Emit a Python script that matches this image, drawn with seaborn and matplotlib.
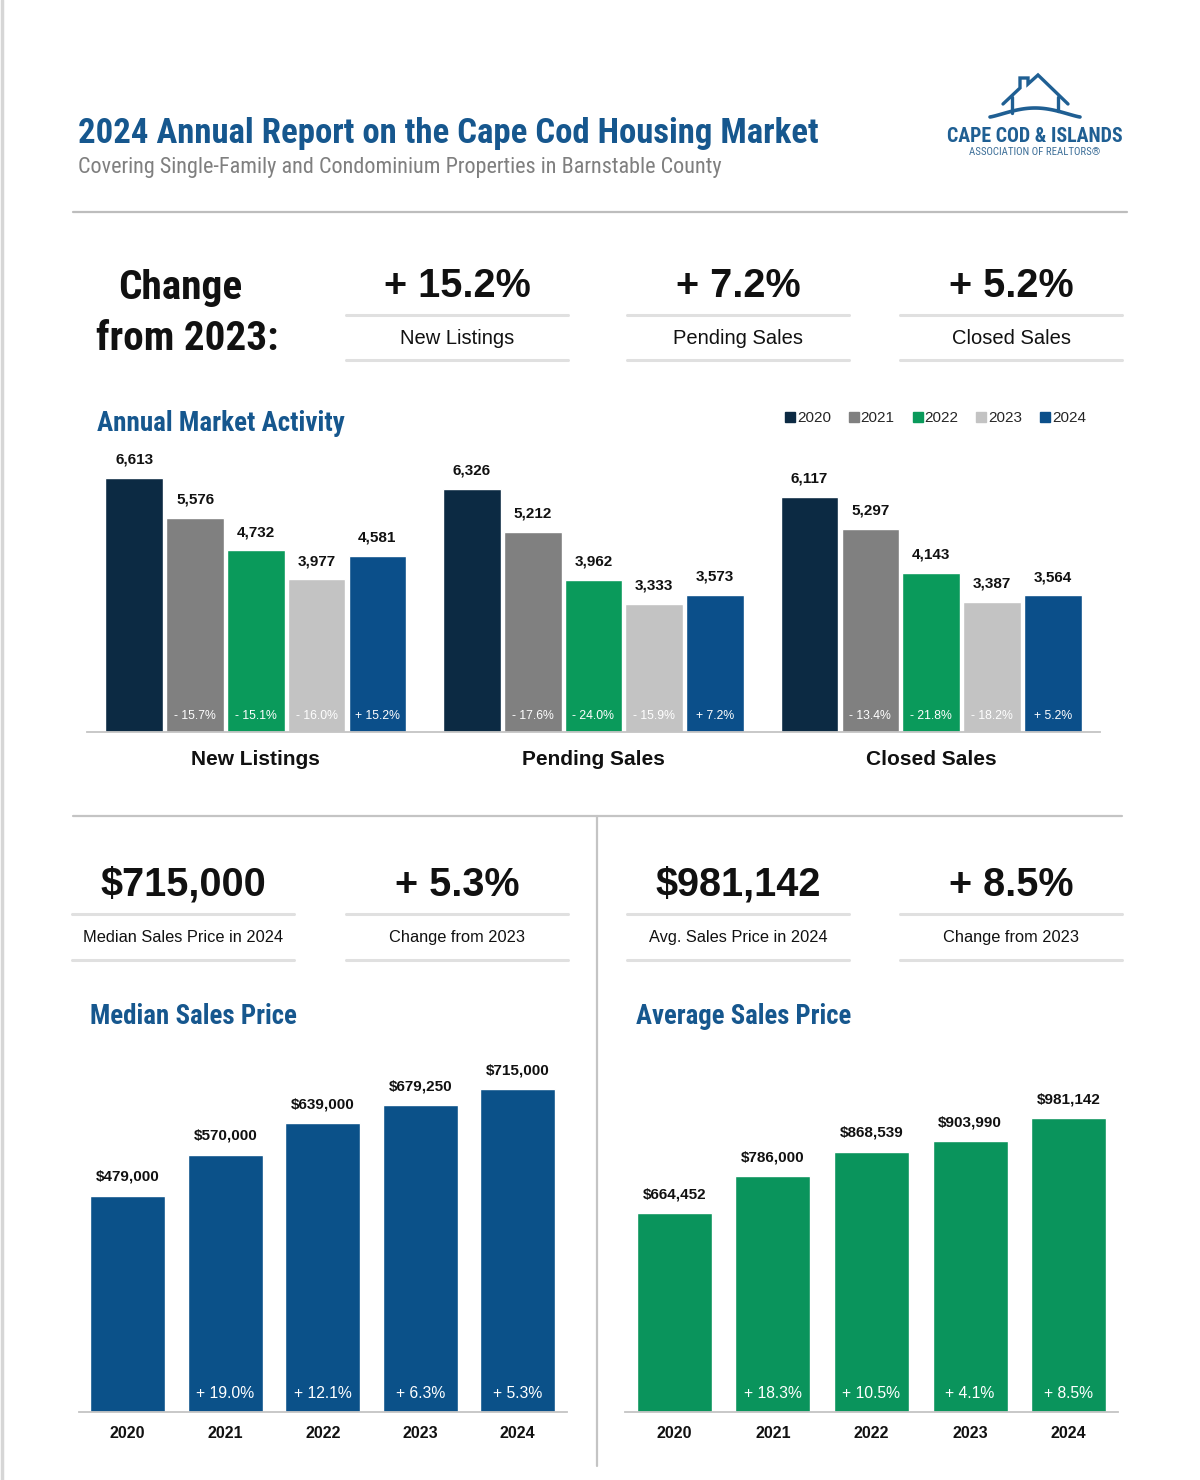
import os
import numpy as np
import pandas as pd
import matplotlib
matplotlib.use("Agg")
import matplotlib.pyplot as plt
import seaborn as sns
from matplotlib import font_manager as fm
from matplotlib.font_manager import FontProperties
from matplotlib.lines import Line2D

# ---------------- data ----------------
activity_categories = ["New Listings", "Pending Sales", "Closed Sales"]
activity_years = ["2020", "2021", "2022", "2023", "2024"]
new_listings = [6613, 5576, 4732, 3977, 4581]
pending_sales = [6326, 5212, 3962, 3333, 3573]
closed_sales = [6117, 5297, 4143, 3387, 3564]
new_listings_chg = ["", "- 15.7%", "- 15.1%", "- 16.0%", "+ 15.2%"]
pending_sales_chg = ["", "- 17.6%", "- 24.0%", "- 15.9%", "+ 7.2%"]
closed_sales_chg = ["", "- 13.4%", "- 21.8%", "- 18.2%", "+ 5.2%"]

kpi_top_values = ["+ 15.2%", "+ 7.2%", "+ 5.2%"]
kpi_top_labels = ["New Listings", "Pending Sales", "Closed Sales"]

price_years = ["2020", "2021", "2022", "2023", "2024"]
median_price = [479000, 570000, 639000, 679250, 715000]
median_chg = ["", "+ 19.0%", "+ 12.1%", "+ 6.3%", "+ 5.3%"]
avg_price = [664452, 786000, 868539, 903990, 981142]
avg_chg = ["", "+ 18.3%", "+ 10.5%", "+ 4.1%", "+ 8.5%"]

kpi_bottom_values = ["$715,000", "+ 5.3%", "$981,142", "+ 8.5%"]
kpi_bottom_labels = ["Median Sales Price in 2024", "Change from 2023",
                     "Avg. Sales Price in 2024", "Change from 2023"]

# ---------------- style ----------------
YEAR_COLORS = ["#0c2a43", "#808080", "#0a9a5b", "#c3c3c3", "#0b4f8a"]
MED_BLUE = "#0b5189"
AVG_GREEN = "#0a945c"
TITLE_BLUE = "#16578e"
INK = "#111111"
LINE_LIGHT = "#e0e0e0"
LINE_MID = "#c4c4c4"

sns.set_theme(style="white")
names = {f.name for f in fm.fontManager.ttflist}
SANS = "Liberation Sans" if "Liberation Sans" in names else "DejaVu Sans"
plt.rcParams["font.family"] = [SANS, "DejaVu Sans"]


def find_font(cands):
    files = [f.fname for f in fm.fontManager.ttflist]
    for c in cands:
        for p in files:
            if os.path.basename(p).lower().startswith(c):
                return p
    return None


cond_bold = find_font(["liberationsansnarrow-bold.", "robotocondensed-bold.",
                       "notosans-condensedbold.", "dejavusanscondensed-bold.",
                       "opensans_condensed-bold.", "opensans-condensedbold."])
cond_reg = find_font(["liberationsansnarrow-regular.", "robotocondensed-regular.",
                      "notosans-condensed.", "dejavusanscondensed.",
                      "opensans_condensed-regular.", "opensans-condensedregular."])


def CB(size=20):
    if cond_bold:
        return FontProperties(fname=cond_bold, size=size)
    return FontProperties(family=SANS, weight="bold", size=size)


def CR(size=20):
    if cond_reg:
        return FontProperties(fname=cond_reg, size=size)
    return FontProperties(family=SANS, size=size)


W, H = 1200, 1480
fig = plt.figure(figsize=(12, 14.8), dpi=100)
fig.patch.set_facecolor("white")
R = fig.canvas.get_renderer()


def ftext(x, y, s, width=None, **kw):
    t = fig.text(x / W, 1 - y / H, s, **kw)
    if width:
        bb = t.get_window_extent(R)
        t.set_fontsize(t.get_fontsize() * width / bb.width)
    return t


def hline(y, x0, x1, color=LINE_LIGHT, lw=2.2):
    fig.add_artist(Line2D([x0 / W, x1 / W], [1 - y / H, 1 - y / H],
                          color=color, lw=lw, transform=fig.transFigure))


def vline(x, y0, y1, color=LINE_MID, lw=1.5):
    fig.add_artist(Line2D([x / W, x / W], [1 - y0 / H, 1 - y1 / H],
                          color=color, lw=lw, transform=fig.transFigure))


def add_ax(left, top, right, bottom):
    return fig.add_axes([left / W, 1 - bottom / H, (right - left) / W, (bottom - top) / H])


# page border (left)
vline(1.5, 0, H, color="#d6d6d6", lw=2.5)

# ---------------- header ----------------
ftext(78, 143, "2024 Annual Report on the Cape Cod Housing Market", width=741,
      fontproperties=CB(30), color=TITLE_BLUE, ha="left", va="baseline")
ftext(78, 173, "Covering Single-Family and Condominium Properties in Barnstable County",
      width=641, fontproperties=CR(20), color="#7f7f7f", ha="left", va="baseline")

# logo
LOGO = "#1f5f93"
house = [(1003, 104), (1020, 88), (1020, 78), (1028, 78), (1028, 84),
         (1038, 75), (1068, 104)]
fig.add_artist(Line2D([p[0] / W for p in house], [1 - p[1] / H for p in house],
                      color=LOGO, lw=2.4, transform=fig.transFigure,
                      solid_joinstyle="miter"))
for xw, ya, yb in [(1012, 97, 113), (1058, 97, 111)]:
    vline(xw, ya, yb, color=LOGO, lw=2.4)
wx = np.linspace(990, 1080, 60)
wy = 117 - 9 * np.sin(np.pi * (wx - 990) / 90) ** 1.2
fig.add_artist(Line2D(wx / W, 1 - wy / H, color=LOGO, lw=2.6, transform=fig.transFigure))
ftext(1035, 142, "CAPE COD & ISLANDS", width=176, fontproperties=CB(18),
      color=LOGO, ha="center", va="baseline")
ftext(1035, 155, "ASSOCIATION OF REALTORS®", width=131, fontproperties=CR(8),
      color="#3c6e98", ha="center", va="baseline")

hline(212, 73, 1127, color="#bdbdbd", lw=1.6)

# ---------------- top KPIs ----------------
t2 = ftext(187, 350, "from 2023:", width=183, fontproperties=CB(36),
           color=INK, ha="center", va="baseline")
ftext(180, 299, "Change", fontproperties=CB(t2.get_fontsize()),
      color=INK, ha="center", va="baseline")

kpi_centers = [457, 738, 1011]
for cx, val, lab in zip(kpi_centers, kpi_top_values, kpi_top_labels):
    ftext(cx, 297, val, fontsize=28.5, fontweight="bold", color=INK,
          ha="center", va="baseline")
    hline(315, cx - 111, cx + 111)
    ftext(cx, 344, lab, fontsize=14.5, color=INK, ha="center", va="baseline")
    hline(360, cx - 111, cx + 111)

# ---------------- Annual Market Activity ----------------
ftext(97, 431, "Annual Market Activity", width=248, fontproperties=CB(24),
      color=TITLE_BLUE, ha="left", va="baseline")

df_act = pd.DataFrame({
    "category": np.repeat(activity_categories, len(activity_years)),
    "year": activity_years * len(activity_categories),
    "count": new_listings + pending_sales + closed_sales,
})
chg_by_year = [[new_listings_chg[i], pending_sales_chg[i], closed_sales_chg[i]]
               for i in range(len(activity_years))]

ax = add_ax(87, 440, 1100, 732)
sns.barplot(data=df_act, x="category", y="count", hue="year",
            hue_order=activity_years, palette=YEAR_COLORS, saturation=1,
            width=0.9, gap=0.05, legend=False, ax=ax)
ax.set_xlim(-0.5, 2.5)
ax.set_ylim(0, max(new_listings) * 292 / 254)
for i, cont in enumerate(ax.containers):
    for bar, chg in zip(cont, chg_by_year[i]):
        xc = bar.get_x() + bar.get_width() / 2
        ax.annotate(f"{int(bar.get_height()):,}", (xc, bar.get_height()),
                    xytext=(0, 13), textcoords="offset points", ha="center",
                    va="center", fontsize=11, fontweight="bold", color=INK)
        if chg:
            ax.annotate(chg, (xc, 0), xytext=(0, 11.5), textcoords="offset points",
                        ha="center", va="center", fontsize=8.8, color="white")
ax.set_xlabel("")
ax.set_ylabel("")
ax.set_yticks([])
for s in ["top", "left", "right"]:
    ax.spines[s].set_visible(False)
ax.spines["bottom"].set_color(LINE_MID)
ax.spines["bottom"].set_linewidth(1.3)
ax.tick_params(axis="x", length=0, pad=13)
for lbl in ax.get_xticklabels():
    lbl.set_fontsize(15)
    lbl.set_fontweight("bold")
    lbl.set_color(INK)

# legend
handles = [Line2D([], [], marker="s", linestyle="none", markersize=7,
                  markerfacecolor=c, markeredgecolor=c) for c in YEAR_COLORS]
fig.legend(handles, activity_years, loc="center right",
           bbox_to_anchor=(1086 / W, 1 - 418 / H), ncol=5, frameon=False,
           handlelength=0.6, handletextpad=0.15, columnspacing=1.2,
           borderaxespad=0, borderpad=0, prop={"family": SANS, "size": 11})

# ---------------- lower section ----------------
hline(816, 73, 1122, color=LINE_MID, lw=1.6)
vline(597, 816, 1466, color=LINE_MID, lw=1.6)

bottom_centers = [183, 457, 738, 1011]
for cx, val, lab in zip(bottom_centers, kpi_bottom_values, kpi_bottom_labels):
    ftext(cx, 896, val, fontsize=28.5, fontweight="bold", color=INK,
          ha="center", va="baseline")
    hline(914, cx - 111, cx + 111)
    ftext(cx, 942, lab, fontsize=11.8, color=INK, ha="center", va="baseline")
    hline(960, cx - 111, cx + 111)

ftext(90, 1024, "Median Sales Price", width=208, fontproperties=CB(24),
      color=TITLE_BLUE, ha="left", va="baseline")
ftext(636, 1024, "Average Sales Price", width=216, fontproperties=CB(24),
      color=TITLE_BLUE, ha="left", va="baseline")


def price_chart(left, right, values, chg, color, px_per_max, width):
    axp = add_ax(left, 1040, right, 1412)
    dfp = pd.DataFrame({"year": price_years, "price": values})
    sns.barplot(data=dfp, x="year", y="price", color=color, saturation=1,
                width=width, ax=axp)
    axp.set_xlim(-0.5, 4.5)
    axp.set_ylim(0, max(values) * 372 / px_per_max)
    for bar, c in zip(axp.containers[0], chg):
        xc = bar.get_x() + bar.get_width() / 2
        axp.annotate(f"${int(bar.get_height()):,}", (xc, bar.get_height()),
                     xytext=(0, 13.5), textcoords="offset points", ha="center",
                     va="center", fontsize=11, fontweight="bold", color=INK)
        if c:
            axp.annotate(c, (xc, 0), xytext=(0, 13.5), textcoords="offset points",
                         ha="center", va="center", fontsize=11.3, color="white")
    axp.set_xlabel("")
    axp.set_ylabel("")
    axp.set_yticks([])
    for s in ["top", "left", "right"]:
        axp.spines[s].set_visible(False)
    axp.spines["bottom"].set_color(LINE_MID)
    axp.spines["bottom"].set_linewidth(1.3)
    axp.tick_params(axis="x", length=0, pad=10)
    for lbl in axp.get_xticklabels():
        lbl.set_fontsize(11.5)
        lbl.set_fontweight("bold")
        lbl.set_color(INK)
    return axp


price_chart(79, 566.5, median_price, median_chg, MED_BLUE, 323, 0.77)
price_chart(625, 1118, avg_price, avg_chg, AVG_GREEN, 294, 0.76)

fig.savefig("out.png", dpi=100, facecolor="white")
